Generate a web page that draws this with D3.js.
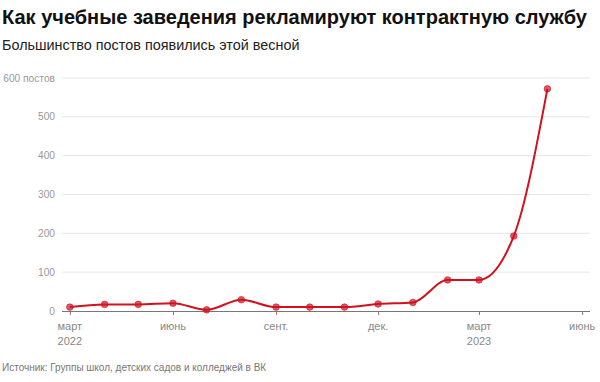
<!DOCTYPE html>
<html>
<head>
<meta charset="utf-8">
<script src="https://cdn.jsdelivr.net/npm/d3@7"></script>
<style>
  body { margin: 0; background: #fff; font-family: "Liberation Sans", Arial, sans-serif; }
  svg text { font-family: "Liberation Sans", Arial, sans-serif; }
</style>
</head>
<body>
<svg id="chart" width="600" height="382"></svg>
<script>
// monthly counts of posts, March 2022 .. May 2023
const months = ["2022-03", "2022-04", "2022-05", "2022-06", "2022-07", "2022-08", "2022-09",
  "2022-10", "2022-11", "2022-12", "2023-01", "2023-02", "2023-03", "2023-04", "2023-05"];
const posts = [10, 17, 17, 20, 3, 29, 10, 10, 10, 18, 22, 80, 80, 193, 572];
const xTicks = ["2022-03", "2022-06", "2022-09", "2022-12", "2023-03", "2023-06"];
const xTickLabels = [["март", "2022"], ["июнь"], ["сент."], ["дек."], ["март", "2023"], ["июнь"]];
const yTicks = [0, 100, 200, 300, 400, 500, 600];

const parse = d3.timeParse("%Y-%m");
const data = months.map((m, i) => ({ date: parse(m), value: posts[i] }));

const svg = d3.select("#chart");
const mLeft = 62, mRight = 590, mTop = 78, mBottom = 311;

const x = d3.scaleTime()
  .domain([new Date(2022, 1, 22), new Date(2023, 5, 8)])
  .range([mLeft, mRight]);
const y = d3.scaleLinear().domain([0, 600]).range([mBottom, mTop]);

// title
svg.append("text").attr("x", 2).attr("y", 24)
  .style("font-size", "20px").style("font-weight", "bold").attr("fill", "#111")
  .text("Как учебные заведения рекламируют контрактную службу");
svg.append("text").attr("x", 2).attr("y", 50)
  .style("font-size", "14.4px").attr("fill", "#222")
  .text("Большинство постов появились этой весной");

// grid
svg.append("g").selectAll("line")
  .data(yTicks.filter(d => d > 0))
  .enter().append("line")
  .attr("x1", mLeft).attr("x2", mRight)
  .attr("y1", d => y(d)).attr("y2", d => y(d))
  .attr("stroke", "#e6e6e6").attr("stroke-width", 1);

svg.append("g").selectAll("text")
  .data(yTicks)
  .enter().append("text")
  .attr("x", 55).attr("y", d => y(d)).attr("dy", "0.35em")
  .attr("text-anchor", "end")
  .style("font-size", "10.2px").attr("fill", "#999")
  .text(d => d === 600 ? "600 постов" : d);

// x axis
const xAxis = svg.append("g").attr("transform", `translate(0,${mBottom})`)
  .call(d3.axisBottom(x).tickValues(xTicks.map(parse)).tickSize(4).tickFormat(""));
xAxis.select(".domain").attr("stroke", "#777").attr("d", `M${mLeft},0.5H${mRight}`);
xAxis.selectAll(".tick line").attr("stroke", "#777");

const lbl = svg.append("g").selectAll("text")
  .data(xTicks)
  .enter().append("text")
  .attr("x", d => x(parse(d)))
  .attr("y", 330)
  .attr("text-anchor", "middle")
  .style("font-size", "11px").attr("fill", "#888");
lbl.each(function(d, i) {
  const t = d3.select(this);
  xTickLabels[i].forEach((s, j) => {
    t.append("tspan").attr("x", x(parse(d))).attr("dy", j === 0 ? 0 : 15).text(s);
  });
});

// line
const line = d3.line()
  .x(d => x(d.date)).y(d => y(d.value))
  .curve(d3.curveMonotoneX);
svg.append("path").datum(data)
  .attr("fill", "none").attr("stroke", "#d0111f").attr("stroke-width", 2)
  .attr("d", line);

svg.append("g").selectAll("circle")
  .data(data)
  .enter().append("circle")
  .attr("cx", d => x(d.date)).attr("cy", d => y(d.value))
  .attr("r", 3.3)
  .attr("fill", "#d0111f").attr("fill-opacity", 0.7)
  .attr("stroke", "#d0111f").attr("stroke-opacity", 0.6);

// source
svg.append("text").attr("x", 2).attr("y", 371)
  .style("font-size", "10px").attr("fill", "#777")
  .text("Источник: Группы школ, детских садов и колледжей в ВК");
</script>
</body>
</html>
